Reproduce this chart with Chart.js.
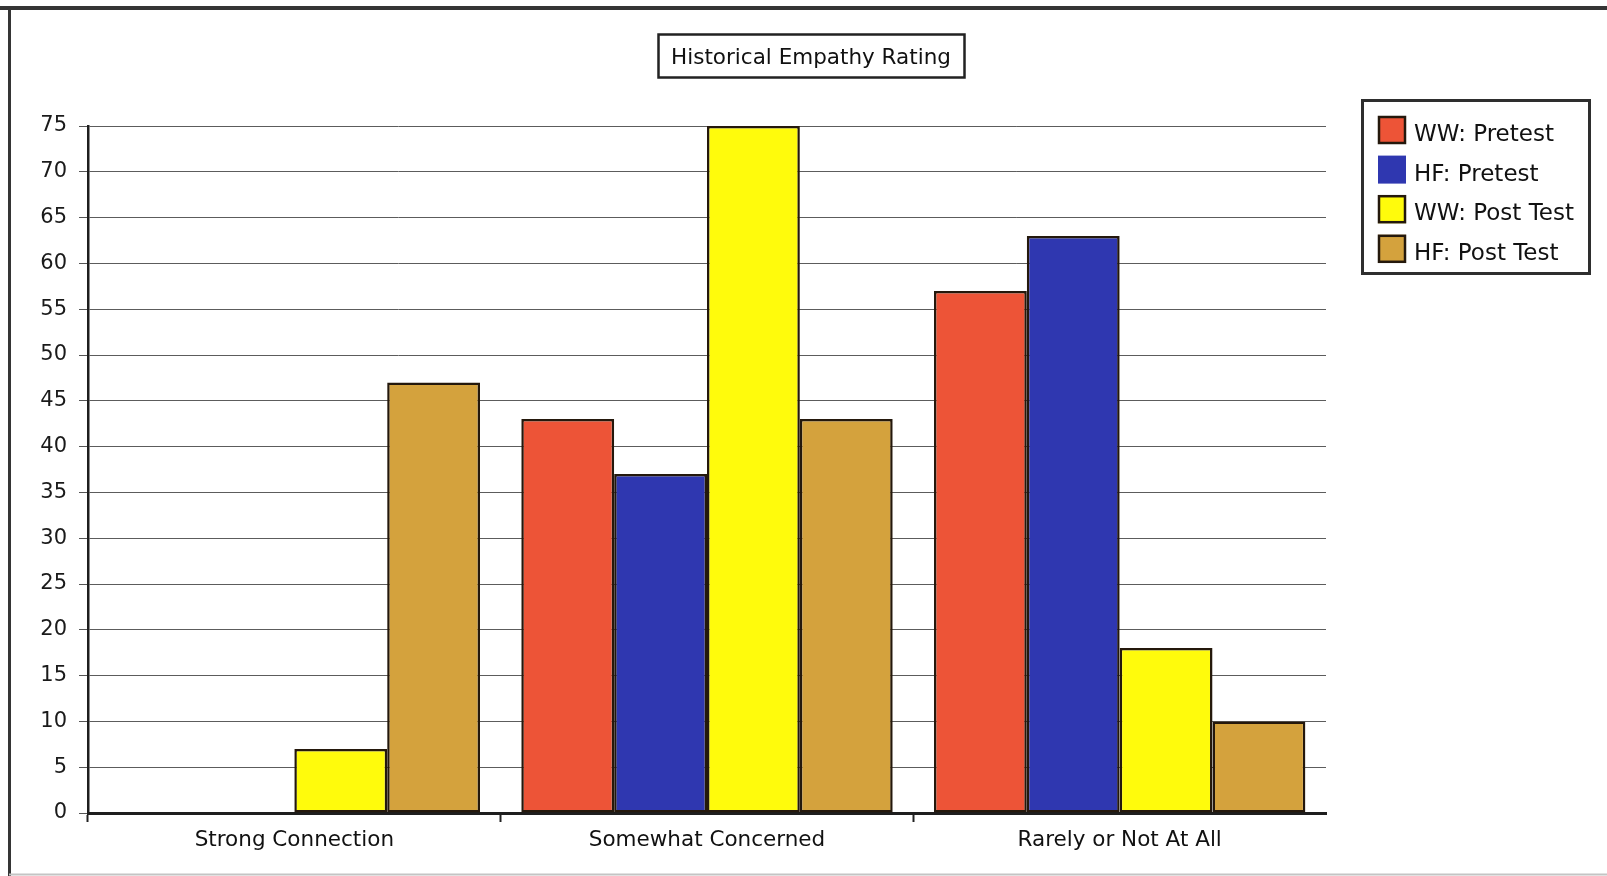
<!DOCTYPE html>
<html>
<head>
<meta charset="utf-8">
<title>Historical Empathy Rating</title>
<script src="https://cdn.jsdelivr.net/npm/chart.js@4.4.1/dist/chart.umd.min.js"></script>
<style>
  html, body { margin: 0; padding: 0; background: #ffffff; }
  #wrap { width: 1607px; height: 876px; position: relative; }
  canvas { display: block; }
</style>
</head>
<body>
<div id="wrap"><canvas id="chart" width="1607" height="876"></canvas></div>
<script>
// Response categories along the horizontal axis
const categories = ['Strong Connection', 'Somewhat Concerned', 'Rarely or Not At All'];

// Series names (legend order)
const seriesNames = ['WW: Pretest', 'HF: Pretest', 'WW: Post Test', 'HF: Post Test'];

// Percent of students per response, one array per series
const wwPretest  = [0, 43, 57];
const hfPretest  = [0, 37, 63];
const wwPostTest = [7, 75, 18];
const hfPostTest = [47, 43, 10];

// Value-axis tick labels
const yTickValues = [0, 5, 10, 15, 20, 25, 30, 35, 40, 45, 50, 55, 60, 65, 70, 75];

const chartTitle = 'Historical Empathy Rating';

const seriesValues = [wwPretest, hfPretest, wwPostTest, hfPostTest];
const seriesColors = ['#ED5437', '#2F37B0', '#FFFB0C', '#D4A23D'];
const barEdge = '#24180c';
const FONT = '"DejaVu Sans", Verdana, sans-serif';

// Page frame, boxed title and boxed legend drawn around the plot
const decorations = {
  id: 'decorations',
  beforeDraw(chart) {
    const ctx = chart.ctx;
    ctx.save();
    ctx.fillStyle = '#ffffff';
    ctx.fillRect(0, 0, chart.width, chart.height);
    ctx.restore();
  },
  afterDraw(chart) {
    const ctx = chart.ctx;
    const area = chart.chartArea;
    ctx.save();

    // outer frame
    ctx.strokeStyle = '#353535';
    ctx.lineWidth = 4;
    ctx.beginPath();
    ctx.moveTo(0, 8); ctx.lineTo(chart.width, 8);
    ctx.stroke();
    ctx.lineWidth = 3;
    ctx.beginPath();
    ctx.moveTo(9.5, 8); ctx.lineTo(9.5, chart.height);
    ctx.stroke();
    ctx.strokeStyle = '#c4c4c4';
    ctx.lineWidth = 2;
    ctx.beginPath();
    ctx.moveTo(9, chart.height - 1.5); ctx.lineTo(chart.width, chart.height - 1.5);
    ctx.stroke();

    // title in a box
    ctx.font = '21.5px ' + FONT;
    ctx.textAlign = 'center';
    ctx.textBaseline = 'middle';
    const tx = 811, ty = 57;
    const tw = ctx.measureText(chartTitle).width;
    ctx.strokeStyle = '#222222';
    ctx.lineWidth = 2.5;
    ctx.strokeRect(Math.round(tx - tw / 2 - 13) + 0.5, 34.5, Math.round(tw + 26), 43);
    ctx.fillStyle = '#111111';
    ctx.fillText(chartTitle, tx, ty + 1);

    // legend in a box
    const lx = area.right + 36, ly = area.top - 26;
    ctx.strokeStyle = '#2e2e2e';
    ctx.lineWidth = 3;
    ctx.strokeRect(lx + 0.5, ly + 0.5, 227, 173);
    ctx.font = '23px ' + FONT;
    ctx.textAlign = 'left';
    ctx.textBaseline = 'middle';
    chart.data.datasets.forEach((ds, i) => {
      const sy = ly + 16 + i * 39.6;
      ctx.fillStyle = ds.backgroundColor;
      ctx.fillRect(lx + 16, sy, 28, 28);
      if (i !== 1) {
        ctx.strokeStyle = barEdge;
        ctx.lineWidth = 2.5;
        ctx.strokeRect(lx + 17, sy + 1, 26, 26);
      }
      ctx.fillStyle = '#111111';
      ctx.fillText(ds.label, lx + 52, sy + 19);
    });

    ctx.restore();
  }
};

const datasets = seriesNames.map((name, i) => ({
  label: name,
  data: seriesValues[i],
  backgroundColor: seriesColors[i],
  borderColor: barEdge,
  borderWidth: 2.5,
  borderSkipped: false,
  barPercentage: 1.0,
  categoryPercentage: 0.9
}));

new Chart(document.getElementById('chart'), {
  type: 'bar',
  data: { labels: categories, datasets },
  plugins: [decorations],
  options: {
    responsive: false,
    devicePixelRatio: 1,
    animation: false,
    layout: { padding: { top: 126, right: 281, bottom: 0, left: 0 } },
    plugins: {
      legend: { display: false },
      title: { display: false },
      tooltip: { enabled: false }
    },
    scales: {
      x: {
        afterFit(scale) { scale.height = 63; },
        offset: true,
        grid: {
          offset: true,
          drawOnChartArea: false,
          drawTicks: true,
          tickLength: 9,
          // no tick mark past the last category
          tickColor: (c) => (c.tick ? '#222222' : 'rgba(0,0,0,0)'),
          tickWidth: 2
        },
        border: { color: '#1e1e1e', width: 3 },
        ticks: {
          font: { family: FONT, size: 21.5 },
          color: '#111111',
          padding: 6,
          maxRotation: 0
        }
      },
      y: {
        min: 0,
        max: 75,
        afterFit(scale) { scale.width = 88; },
        afterBuildTicks(scale) { scale.ticks = yTickValues.map(v => ({ value: v })); },
        grid: {
          color: '#5c5c5c',
          lineWidth: 1,
          borderDash: [2, 1],
          tickLength: 9,
          tickColor: '#555555',
          tickBorderDash: []
        },
        border: { color: '#1e1e1e', width: 2.5 },
        ticks: {
          font: { family: FONT, size: 21 },
          color: '#1a1a1a',
          padding: 12
        }
      }
    }
  }
});
</script>
</body>
</html>
